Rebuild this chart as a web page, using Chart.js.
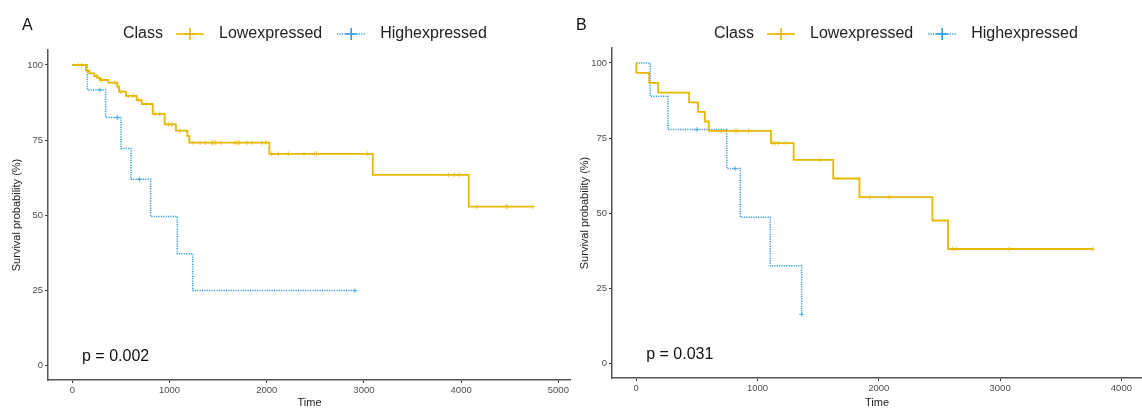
<!DOCTYPE html>
<html lang="en">
<head>
  <meta charset="UTF-8" />
  <title>Survival by Class</title>
  <script src="https://cdn.jsdelivr.net/npm/chart.js"></script>
  <style>
    body {
      margin: 0;
      background-color: #ffffff;
    }

    #wrap {
      display: flex;
      width: 1142px;
      height: 410px;
    }

    .panel {
      width: 571px;
      height: 410px;
    }
  </style>
</head>
<body>
  <div id="wrap">
    <div class="panel"><canvas id="chartA" width="571" height="410"></canvas></div>
    <div class="panel"><canvas id="chartB" width="571" height="410"></canvas></div>
  </div>

  <script>
    const classes = ['Lowexpressed', 'Highexpressed'];
    const classColors = ['#E7B800', '#2E9FDF'];
    const yTicks = [0, 25, 50, 75, 100];
    const xTicksA = [0, 1000, 2000, 3000, 4000, 5000];
    const xTicksB = [0, 1000, 2000, 3000, 4000];

    // panel A
    const lowTimeA = [0, 141, 175, 227, 258, 285, 371, 463, 481, 552, 662, 714, 827, 950, 1066, 1183, 1204, 2027, 3091, 4078, 4737];
    const lowSurvA = [100, 98.1, 97.2, 96.3, 95.7, 95.0, 94.1, 92.8, 91.1, 89.7, 88.3, 87.0, 83.7, 80.2, 78.1, 76.3, 74.1, 70.4, 63.4, 52.8, 52.8];
    const lowCensorA = [62, 96, 251, 300, 439, 501, 576, 628, 679, 758, 851, 900, 988, 1022, 1108, 1245, 1314, 1365, 1434, 1451, 1475, 1530, 1674, 1698, 1718, 1794, 1846, 1949, 1990, 2051, 2119, 2222, 2384, 2490, 2514, 3035, 3868, 3930, 3981, 4160, 4462, 4475, 4737];
    const highTimeA = [0, 155, 343, 501, 604, 806, 1080, 1239, 2908];
    const highSurvA = [100, 91.7, 82.5, 72.2, 61.9, 49.5, 37.1, 24.8, 24.8];
    const highCensorA = [285, 463, 690, 2908];

    // panel B
    const lowTimeB = [0, 1, 107, 181, 436, 510, 565, 598, 1111, 1298, 1624, 1841, 2442, 2570, 3764];
    const lowSurvB = [100, 96.7, 93.4, 90.1, 86.9, 83.7, 80.5, 77.4, 73.3, 67.7, 61.5, 55.3, 47.5, 38.0, 38.0];
    const lowCensorB = [700, 815, 832, 927, 1124, 1144, 1171, 1232, 1515, 1926, 2085, 2612, 2639, 3073, 3764];
    const highTimeB = [0, 115, 261, 746, 858, 1105, 1364];
    const highSurvB = [100, 88.9, 77.8, 64.8, 48.6, 32.4, 16.2];
    const highCensorB = [500, 815, 1364];

    const FONT = '"Liberation Sans", Arial, sans-serif';
    Chart.defaults.font.family = FONT;

    function survAt(times, surv, t) {
      let v = surv[0];
      for (let i = 0; i < times.length; i++) {
        if (times[i] <= t) v = surv[i];
      }
      return v;
    }

    function toPoints(times, surv) {
      return times.map((t, i) => ({ x: t, y: surv[i] }));
    }

    function censorPoints(times, surv, cens) {
      return cens.map(t => ({ x: t, y: survAt(times, surv, t) }));
    }

    // letter, legend and p value
    const decor = {
      id: 'decor',
      afterDraw(chart, args, opts) {
        const ctx = chart.ctx;
        ctx.save();
        ctx.fillStyle = '#111';
        ctx.textBaseline = 'middle';
        ctx.textAlign = 'left';
        ctx.font = '16px ' + FONT;
        ctx.fillText(opts.letter, opts.letterX, 26);

        let x = opts.legendX;
        const y = 34;
        ctx.fillStyle = '#222';
        ctx.fillText('Class', x, y);
        x += ctx.measureText('Class').width + 13;
        classes.forEach((name, i) => {
          ctx.strokeStyle = classColors[i];
          ctx.lineWidth = 1.6;
          ctx.setLineDash(i === 1 ? [1.2, 1.2] : []);
          ctx.beginPath();
          ctx.moveTo(x, y);
          ctx.lineTo(x + 28, y);
          ctx.stroke();
          ctx.setLineDash([]);
          ctx.beginPath();
          ctx.moveTo(x + 14, y - 6);
          ctx.lineTo(x + 14, y + 6);
          ctx.moveTo(x + 8, y);
          ctx.lineTo(x + 20, y);
          ctx.stroke();
          x += 28 + 15;
          ctx.fillStyle = '#222';
          ctx.fillText(name, x, y);
          x += ctx.measureText(name).width + 15;
        });

        const sx = chart.scales.x, sy = chart.scales.y;
        ctx.fillStyle = '#111';
        ctx.fillText(opts.pText, sx.getPixelForValue(opts.pPos[0]), sy.getPixelForValue(opts.pPos[1]));
        ctx.restore();
      }
    };

    function makeChart(id, cfg) {
      return new Chart(document.getElementById(id), {
        data: {
          datasets: [
            {
              type: 'line',
              label: classes[0],
              data: toPoints(cfg.lowTime, cfg.lowSurv),
              stepped: true,
              borderColor: classColors[0],
              borderWidth: 1.8,
              pointRadius: 0,
              fill: false
            },
            {
              type: 'line',
              label: classes[1],
              data: toPoints(cfg.highTime, cfg.highSurv),
              stepped: true,
              borderColor: classColors[1],
              borderWidth: 1.5,
              borderDash: [1.2, 1.2],
              pointRadius: 0,
              fill: false
            },
            {
              type: 'scatter',
              label: classes[0] + ' censor',
              data: censorPoints(cfg.lowTime, cfg.lowSurv, cfg.lowCensor),
              pointStyle: 'cross',
              pointRadius: 2.5,
              borderColor: 'rgba(231, 184, 0, 0.75)',
              borderWidth: 1
            },
            {
              type: 'scatter',
              label: classes[1] + ' censor',
              data: censorPoints(cfg.highTime, cfg.highSurv, cfg.highCensor),
              pointStyle: 'cross',
              pointRadius: 2.5,
              borderColor: 'rgba(46, 159, 223, 0.75)',
              borderWidth: 1
            }
          ]
        },
        options: {
          responsive: false,
          animation: false,
          layout: { autoPadding: false, padding: { top: cfg.top, right: 0, bottom: 0, left: 0 } },
          plugins: {
            legend: { display: false },
            tooltip: { enabled: false },
            decor: {
              letter: cfg.letter,
              letterX: cfg.letterX,
              legendX: cfg.legendX,
              pText: cfg.pText,
              pPos: cfg.pPos
            }
          },
          scales: {
            x: {
              type: 'linear',
              min: cfg.xMin,
              max: cfg.xMax,
              afterBuildTicks: s => { s.ticks = cfg.xTicks.map(v => ({ value: v })); },
              afterFit: s => { s.height = cfg.xHeight; s.paddingLeft = 0; s.paddingRight = 0; },
              ticks: { autoSkip: false, maxRotation: 0, padding: 2, color: '#4d4d4d', font: { size: 9.5 }, callback: v => String(v) },
              grid: { display: true, drawOnChartArea: false, drawTicks: true, tickLength: 3, color: '#333' },
              border: { display: true, color: '#555', width: 1.5 },
              title: { display: true, text: 'Time', color: '#222', font: { size: 11 }, padding: { top: 1, bottom: 0 } }
            },
            y: {
              type: 'linear',
              min: -5,
              max: 105,
              afterBuildTicks: s => { s.ticks = yTicks.map(v => ({ value: v })); },
              afterFit: s => { s.width = cfg.yWidth; s.paddingTop = 0; s.paddingBottom = 0; },
              ticks: { autoSkip: false, padding: 2, color: '#4d4d4d', font: { size: 9.5 }, callback: v => String(v) },
              grid: { display: true, drawOnChartArea: false, drawTicks: true, tickLength: 3, color: '#333' },
              border: { display: true, color: '#555', width: 1.5 },
              title: { display: true, text: 'Survival probability (%)', color: '#222', font: { size: 11 }, padding: { top: cfg.yTitlePad, bottom: 0 } }
            }
          }
        },
        plugins: [decor]
      });
    }

    makeChart('chartA', {
      lowTime: lowTimeA, lowSurv: lowSurvA, lowCensor: lowCensorA,
      highTime: highTimeA, highSurv: highSurvA, highCensor: highCensorA,
      xTicks: xTicksA, xMin: -250, xMax: 5130,
      top: 50, xHeight: 30, yWidth: 48, yTitlePad: 10,
      letter: 'A', letterX: 22, legendX: 123,
      pText: 'p = 0.002', pPos: [100, 2.7]
    });

    makeChart('chartB', {
      lowTime: lowTimeB, lowSurv: lowSurvB, lowCensor: lowCensorB,
      highTime: highTimeB, highSurv: highSurvB, highCensor: highCensorB,
      xTicks: xTicksB, xMin: -200, xMax: 4170,
      top: 48, xHeight: 32, yWidth: 41, yTitlePad: 7,
      letter: 'B', letterX: 5, legendX: 143,
      pText: 'p = 0.031', pPos: [82, 2.8]
    });
  </script>
</body>
</html>
